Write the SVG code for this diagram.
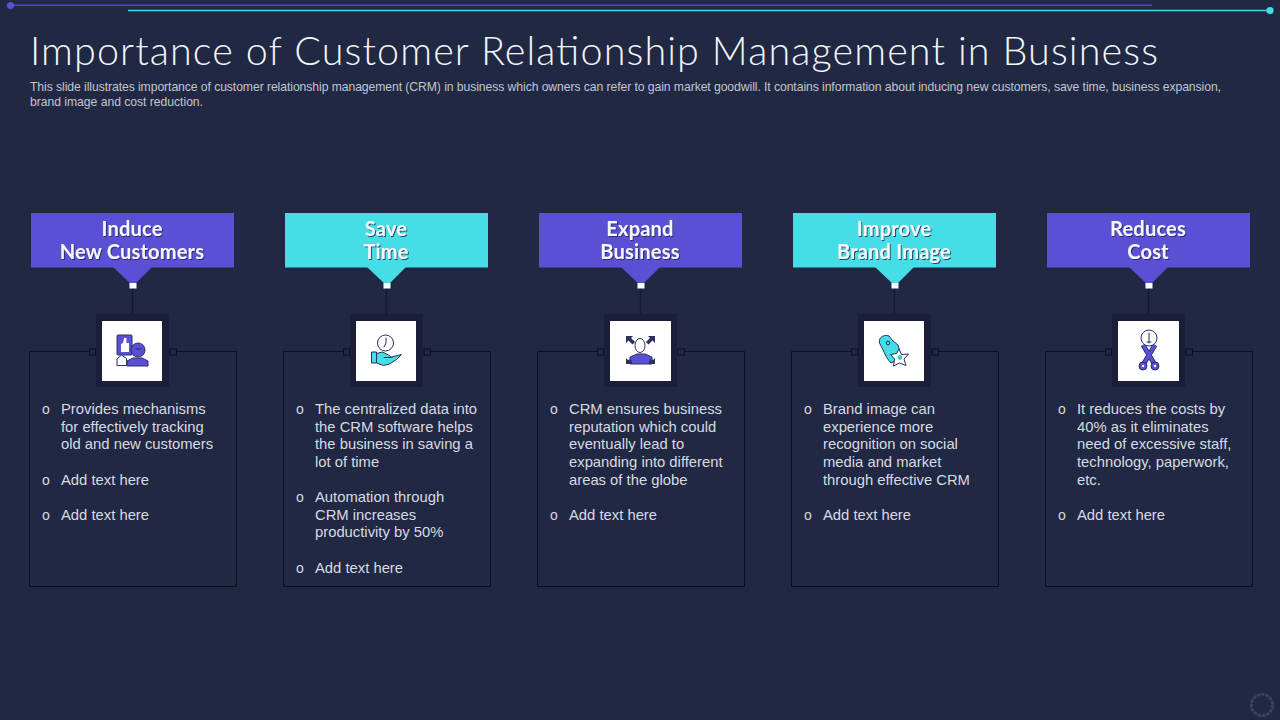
<svg xmlns="http://www.w3.org/2000/svg" width="1280" height="720" viewBox="0 0 1280 720">
<style>
.title{font:300 39.5px Lato,"Liberation Sans",sans-serif;fill:#f4f5f8}
.sub{font:12.2px "Liberation Sans",Arial,sans-serif;fill:#c3c6ce}
.head{font:bold 20px Lato,"Liberation Sans",sans-serif;fill:#f6f6fb;text-anchor:middle;filter:url(#sh);letter-spacing:.2px}
.body{font:14.8px "Liberation Sans",Arial,sans-serif;fill:#d8dbe2}
.bul{font:14px "Liberation Sans",Arial,sans-serif;fill:#d8dbe2}
.purple{fill:#5a50d6}.cyan{fill:#45dee6}
.frame{fill:#1a1e38}.white{fill:#fff}
.box{fill:none;stroke:#0b0e1c;stroke-width:1}
.tick{fill:none;stroke:#0b0e1c;stroke-width:1}
.link{stroke:#141830;stroke-width:1.2;fill:none}
.ic{stroke:#2d2f5e;stroke-width:1;stroke-linejoin:round}
.icl{fill:none;stroke:#2d2f5e;stroke-width:1;stroke-linecap:round}
</style>
<defs>
<filter id="sh" x="-10%" y="-10%" width="120%" height="130%"><feDropShadow dx="1" dy="1" stdDeviation="0.5" flood-color="#20204a" flood-opacity="0.8"/></filter>
</defs>
<rect width="1280" height="720" fill="#202843"/>
<g id="decor">
<line x1="10" y1="5.300" x2="1152" y2="5.300" stroke="#5048c8" stroke-width="1.600"/>
<circle cx="10.500" cy="5.500" r="3.600" fill="#5a50d6"/>
<line x1="128" y1="10.500" x2="1270" y2="10.500" stroke="#45d4e0" stroke-width="1.300"/>
<circle cx="1270" cy="10.500" r="3.600" fill="#45dee6"/>
<circle cx="1262" cy="705" r="10.500" fill="none" stroke="#3c4462" stroke-width="2.600" stroke-dasharray="3.300 1.100"/>
<circle cx="1262" cy="705" r="11.500" fill="none" stroke="#3c4462" stroke-width="0.700"/>
</g>
<text class="title" x="30" y="65" textLength="1128" lengthAdjust="spacing">Importance of Customer Relationship Management in Business</text>
<text class="sub" x="30" y="91" textLength="1191" lengthAdjust="spacing">This slide illustrates importance of customer relationship management (CRM) in business which owners can refer to gain market goodwill. It contains information about inducing new customers, save time, business expansion,</text>
<text class="sub" x="30" y="106" textLength="173" lengthAdjust="spacing">brand image and cost reduction.</text>

<g id="connectors">
<path class="link" d="M132.500 288V314M386.500 288V314M640.500 288V314M894.500 288V314M1148.500 288V314"/>
</g>

<g id="card1">
<rect class="purple" x="31" y="213" width="203" height="54.500"/>
<path class="purple" d="M113 267H152L133 286Z"/>
<rect class="white" x="129.500" y="283" width="7" height="5.500"/>
<text class="head" x="132" y="236">Induce</text><text class="head" x="132" y="259">New Customers</text>
<rect class="frame" x="96" y="314" width="73" height="73"/><rect class="white" x="102" y="321" width="60" height="60"/>
<path class="box" d="M89 351.500H29.500V586.500H236.500V351.500H176"/>
<rect class="tick" x="89.500" y="349" width="6" height="6"/><rect class="tick" x="170" y="349" width="6.500" height="6"/>
<g>
<rect class="purple ic" x="117" y="335" width="15" height="20" rx="1"/>
<path class="white" d="M121 352V344l2-1 1-5 2.500 0 0 5 2.500 0 0 9z"/>
<path class="white ic" d="M117 365.500V359l4.500-4 5 3.500v7z"/>
<path class="purple ic" d="M127 366V361l6-3h9l6 3v5z"/>
<circle class="purple ic" cx="138" cy="350" r="7"/>
<path class="icl" d="M136 349h5"/>
</g>
<text class="bul" x="42" y="414">o</text>
<text class="body" x="61" y="414">Provides mechanisms</text><text class="body" x="61" y="432">for effectively tracking</text><text class="body" x="61" y="449">old and new customers</text>
<text class="bul" x="42" y="485">o</text><text class="body" x="61" y="485">Add text here</text>
<text class="bul" x="42" y="520">o</text><text class="body" x="61" y="520">Add text here</text>
</g>

<g id="card2">
<rect class="cyan" x="285" y="213" width="203" height="54.500"/>
<path class="cyan" d="M367 267H406L387 286Z"/>
<rect class="white" x="383.500" y="283" width="7" height="5.500"/>
<text class="head" x="386" y="236">Save</text><text class="head" x="386" y="259">Time</text>
<rect class="frame" x="350" y="314" width="73" height="73"/><rect class="white" x="356" y="321" width="60" height="60"/>
<path class="box" d="M343 351.500H283.500V586.500H490.500V351.500H430"/>
<rect class="tick" x="343.500" y="349" width="6" height="6"/><rect class="tick" x="424" y="349" width="6.500" height="6"/>
<g>
<circle cx="385.500" cy="343" r="8" fill="#fff" stroke="#2d2f5e"/>
<path class="icl" d="M386 338V343L384 347"/>
<rect class="cyan ic" x="371.500" y="352" width="5" height="11"/>
<path class="cyan ic" d="M376.500 353.500l6-1.500 6 3 3 2 10-2.500-5 5-7 4.500-6 1.500-7-2.500z"/>
<path class="icl" d="M384 357.500h8"/>
</g>
<text class="bul" x="296" y="414">o</text>
<text class="body" x="315" y="414">The centralized data into</text><text class="body" x="315" y="432">the CRM software helps</text><text class="body" x="315" y="449">the business in saving a</text><text class="body" x="315" y="467">lot of time</text>
<text class="bul" x="296" y="502">o</text>
<text class="body" x="315" y="502">Automation through</text><text class="body" x="315" y="520">CRM increases</text><text class="body" x="315" y="537">productivity by 50%</text>
<text class="bul" x="296" y="573">o</text><text class="body" x="315" y="573">Add text here</text>
</g>

<g id="card3">
<rect class="purple" x="539" y="213" width="203" height="54.500"/>
<path class="purple" d="M621 267H660L641 286Z"/>
<rect class="white" x="637.500" y="283" width="7" height="5.500"/>
<text class="head" x="640" y="236">Expand</text><text class="head" x="640" y="259">Business</text>
<rect class="frame" x="604" y="314" width="73" height="73"/><rect class="white" x="610" y="321" width="61" height="60"/>
<path class="box" d="M597 351.500H537.500V586.500H744.500V351.500H684"/>
<rect class="tick" x="597.500" y="349" width="6" height="6"/><rect class="tick" x="678" y="349" width="6.500" height="6"/>
<g>
<path class="purple ic" d="M630 364V357l7-3h8l7 3v7z"/>
<ellipse cx="640" cy="345.500" rx="5" ry="7" fill="#fff" stroke="#2d2f5e"/>
<path fill="#2d2f5e" d="M626 336h7l-2 2 4 4-2.500 2.500-4-4-2.500 2.500zM655 336h-7l2 2-4 4 2.500 2.500 4-4 2.500 2.500zM626 364v-6l2 2 3-1 1.500 5zM655 364v-6l-2 2-3-1-1.500 5z"/>
</g>
<text class="bul" x="550" y="414">o</text>
<text class="body" x="569" y="414">CRM ensures business</text><text class="body" x="569" y="432">reputation which could</text><text class="body" x="569" y="449">eventually lead to</text><text class="body" x="569" y="467">expanding into different</text><text class="body" x="569" y="485">areas of the globe</text>
<text class="bul" x="550" y="520">o</text><text class="body" x="569" y="520">Add text here</text>
</g>

<g id="card4">
<rect class="cyan" x="793" y="213" width="203" height="54.500"/>
<path class="cyan" d="M875 267H914L895 286Z"/>
<rect class="white" x="891.500" y="283" width="7" height="5.500"/>
<text class="head" x="894" y="236">Improve</text><text class="head" x="894" y="259">Brand Image</text>
<rect class="frame" x="858" y="314" width="73" height="73"/><rect class="white" x="864" y="321" width="60" height="60"/>
<path class="box" d="M851 351.500H791.500V586.500H998.500V351.500H938"/>
<rect class="tick" x="851.500" y="349" width="6" height="6"/><rect class="tick" x="932" y="349" width="6.500" height="6"/>
<g>
<path class="cyan ic" d="M879.500 343C878 337 885 334 889 336L892 340L898 345L900 352L895 361L891 363L887 358Z"/>
<circle cx="888" cy="343" r="1.800" fill="none" stroke="#2d2f5e"/>
<path fill="#fff" stroke="#2d2f5e" d="M899 349l2.500 5.500 7-.5-4.500 5 2 6.500-6.500-2.500-6 3 1-7-4-4.500 6-1z"/>
<circle cx="900" cy="357.500" r="2.400" fill="#45c8c8"/>
</g>
<text class="bul" x="804" y="414">o</text>
<text class="body" x="823" y="414">Brand image can</text><text class="body" x="823" y="432">experience more</text><text class="body" x="823" y="449">recognition on social</text><text class="body" x="823" y="467">media and market</text><text class="body" x="823" y="485">through effective CRM</text>
<text class="bul" x="804" y="520">o</text><text class="body" x="823" y="520">Add text here</text>
</g>

<g id="card5">
<rect class="purple" x="1047" y="213" width="203" height="54.500"/>
<path class="purple" d="M1129 267H1168L1149 286Z"/>
<rect class="white" x="1145.500" y="283" width="7" height="5.500"/>
<text class="head" x="1148" y="236">Reduces</text><text class="head" x="1148" y="259">Cost</text>
<rect class="frame" x="1112" y="314" width="73" height="73"/><rect class="white" x="1118" y="321" width="61" height="60"/>
<path class="box" d="M1105 351.500H1045.500V586.500H1252.500V351.500H1192"/>
<rect class="tick" x="1105.500" y="349" width="6" height="6"/><rect class="tick" x="1186" y="349" width="6.500" height="6"/>
<g>
<path d="M1143 345L1155 365M1155 345L1143 365" stroke="#2d2f5e" stroke-width="5" fill="none"/>
<path d="M1143 345L1155 365M1155 345L1143 365" stroke="#5a50d6" stroke-width="3.400" fill="none"/>
<circle class="purple ic" cx="1143" cy="366" r="4"/><circle class="purple ic" cx="1155" cy="366" r="4"/>
<circle class="white" cx="1143" cy="366" r="1.200"/><circle class="white" cx="1155" cy="366" r="1.200"/>
<circle cx="1149" cy="338" r="8" fill="#fff" stroke="#2d2f5e"/>
<path class="icl" d="M1149 333V343M1147 342h4"/>
</g>
<text class="bul" x="1058" y="414">o</text>
<text class="body" x="1077" y="414">It reduces the costs by</text><text class="body" x="1077" y="432">40% as it eliminates</text><text class="body" x="1077" y="449">need of excessive staff,</text><text class="body" x="1077" y="467">technology, paperwork,</text><text class="body" x="1077" y="485">etc.</text>
<text class="bul" x="1058" y="520">o</text><text class="body" x="1077" y="520">Add text here</text>
</g>
</svg>
